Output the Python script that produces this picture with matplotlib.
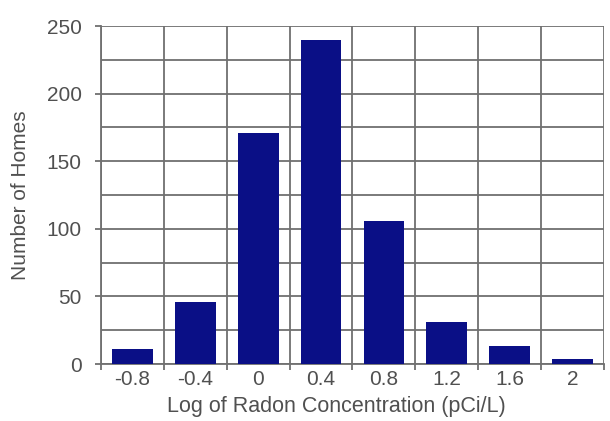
import matplotlib
matplotlib.use("Agg")
import matplotlib.pyplot as plt
import numpy as np

# values
log_conc = ["-0.8", "-0.4", "0", "0.4", "0.8", "1.2", "1.6", "2"]
n_homes = [11, 46, 171, 240, 106, 31, 13, 4]

plt.rcParams['font.family'] = ['Liberation Sans', 'DejaVu Sans']

fig = plt.figure(figsize=(6.10, 4.21), dpi=100)
ax = fig.add_axes([101 / 610, 1 - 364 / 421, 503 / 610, 338 / 421])

x = np.arange(len(log_conc))
ax.bar(x, n_homes, width=0.65, color='#0a0f86', zorder=3)

ax.set_xlim(-0.5, len(log_conc) - 0.5)
ax.set_ylim(0, 250)

# grid: horizontal every 25, vertical between categories
ax.set_yticks(np.arange(0, 251, 50))
ax.set_yticks(np.arange(0, 251, 25), minor=True)
ax.set_xticks(x)
ax.set_xticklabels(log_conc)
ax.set_xticks(np.arange(-0.5, len(log_conc), 1), minor=True)
ax.grid(True, which='both', color='#707070', linewidth=1.3, zorder=0)
ax.grid(False, which='major', axis='x')

for s in ['top', 'right']:
    ax.spines[s].set_visible(False)
for s in ['left', 'bottom']:
    ax.spines[s].set_color('#707070')
    ax.spines[s].set_linewidth(1.3)

ax.tick_params(axis='x', which='major', length=0, pad=4, labelsize=15, labelcolor='#505050')
ax.tick_params(axis='x', which='minor', length=4, color='#707070', width=1.3)
ax.tick_params(axis='y', which='major', length=4, pad=10, labelsize=15, labelcolor='#505050',
               color='#707070', width=1.3)
ax.tick_params(axis='y', which='minor', length=0)

ax.set_xlabel('Log of Radon Concentration (pCi/L)', fontsize=15.5, color='#505050', labelpad=7)
ax.xaxis.set_label_coords(0.467, -0.095)
ax.set_ylabel('Number of Homes', fontsize=15, color='#505050', labelpad=12)

fig.savefig('out.png', dpi=100)
